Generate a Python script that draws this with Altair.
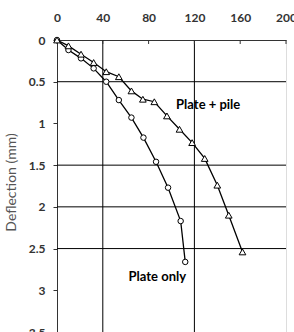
import altair as alt
import pandas as pd

# Plate only (circles)
plate_load = [0, 10, 21, 32, 43, 54, 65, 75.5, 86.5, 97, 108, 112]
plate_defl = [0, 0.12, 0.22, 0.34, 0.5, 0.72, 0.93, 1.17, 1.46, 1.77, 2.17, 2.66]

# Plate + pile (triangles)
pile_load = [0, 10, 21, 32, 43, 54, 65, 75, 85, 96, 107, 118, 129, 140, 150, 162]
pile_defl = [0, 0.07, 0.17, 0.27, 0.38, 0.44, 0.61, 0.71, 0.74, 0.91, 1.07, 1.23, 1.42, 1.74, 2.1, 2.54]

x_ticks = [0, 40, 80, 120, 160, 200]
y_ticks = [0, 0.5, 1, 1.5, 2, 2.5, 3, 3.5]
x_grid = [40, 120]
y_grid = [0.5, 1.5, 2, 2.5]

labels = ["Plate + pile", "Plate only"]
label_x = [104, 62.5]
label_y = [0.78, 2.84]

df_plate = pd.DataFrame({"x": plate_load, "y": plate_defl, "i": range(len(plate_load))})
df_pile = pd.DataFrame({"x": pile_load, "y": pile_defl, "i": range(len(pile_load))})

xs = alt.Scale(domain=[0, 200], nice=False)
ys = alt.Scale(domain=[0, 3.5], reverse=True, nice=False)

font = "Lato"

base_axes = alt.Chart(pd.DataFrame({"x": [0], "y": [0]})).mark_point(opacity=0).encode(
    x=alt.X("x:Q", scale=xs, axis=alt.Axis(
        orient="top", values=x_ticks, grid=False, tickSize=0, labelPadding=16,
        labelFlush=False, labelOverlap=False,
        labelFont=font, labelFontSize=12, labelFontWeight="bold", labelColor="#333333",
        domainColor="#333333", domainWidth=1, title=None)),
    y=alt.Y("y:Q", scale=ys, axis=alt.Axis(
        orient="left", values=y_ticks, grid=False, tickSize=4, tickColor="#333333",
        format="~g",
        labelPadding=8, labelFont=font, labelFontSize=12, labelFontWeight="bold",
        labelColor="#333333", domainColor="#333333", domainWidth=1,
        labelFlush=False, labelOverlap=False,
        title="Deflection (mm)", titleFont=font, titleFontSize=14, titleFontWeight="normal",
        titleColor="#555555", titleX=-46, titleY=142, titleAngle=-90,
        titleBaseline="middle", titleAlign="center")),
)

top_ticks = alt.Chart(pd.DataFrame({"x": x_ticks})).mark_rule(color="#333333", strokeWidth=1).encode(
    x=alt.X("x:Q", scale=xs), y=alt.value(0), y2=alt.value(4))

vgrid = alt.Chart(pd.DataFrame({"x": x_grid})).mark_rule(color="black", strokeWidth=1).encode(
    x=alt.X("x:Q", scale=xs))
hgrid = alt.Chart(pd.DataFrame({"y": y_grid})).mark_rule(color="black", strokeWidth=1).encode(
    y=alt.Y("y:Q", scale=ys))

def series(df, shape, size):
    line = alt.Chart(df).mark_line(color="black", strokeWidth=1.3).encode(
        x=alt.X("x:Q", scale=xs), y=alt.Y("y:Q", scale=ys), order="i:Q")
    pts = alt.Chart(df).mark_point(shape=shape, size=size, filled=True, fill="white",
                                   stroke="black", strokeWidth=1, opacity=1).encode(
        x=alt.X("x:Q", scale=xs), y=alt.Y("y:Q", scale=ys))
    return line + pts

text = alt.Chart(pd.DataFrame({"t": labels, "x": label_x, "y": label_y})).mark_text(
    font=font, fontSize=13, fontWeight="bold", color="black", align="left", baseline="middle"
).encode(x=alt.X("x:Q", scale=xs), y=alt.Y("y:Q", scale=ys), text="t:N")

chart = alt.layer(
    base_axes, vgrid, hgrid, top_ticks,
    series(df_plate, "circle", 30),
    series(df_pile, "triangle-up", 45),
    text,
).properties(
    width=229, height=292,
    autosize=alt.AutoSizeParams(type="none"),
    padding={"left": 57, "top": 40, "right": 8, "bottom": 0},
).configure_view(stroke=None).configure(background="white")

chart.save("out.html", embed_options={"renderer": "svg", "actions": False})
